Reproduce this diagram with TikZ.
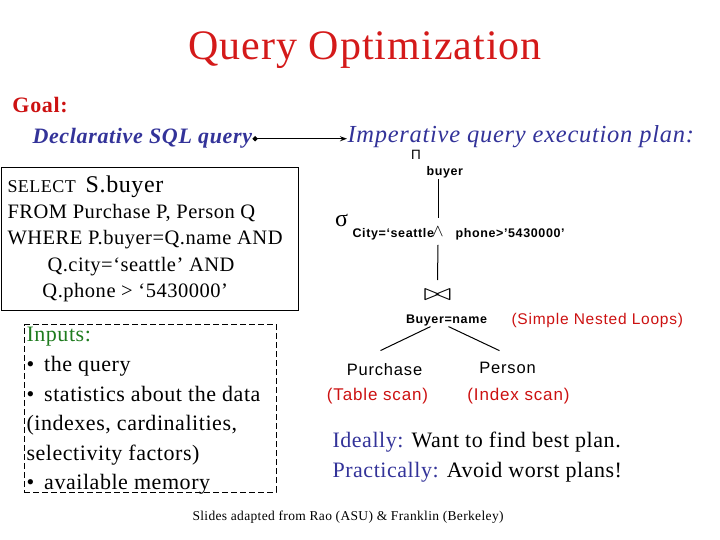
\documentclass[tikz,border=0pt]{standalone}
\usepackage{fontspec}
\usepackage{graphicx}
\setmainfont{Liberation Serif}[LetterSpace=2.5]
\setsansfont{Liberation Sans}[LetterSpace=5]
\usetikzlibrary{arrows.meta, positioning, calc}
\definecolor{cred}{HTML}{D41A1A}
\definecolor{cdred}{HTML}{CC1111}
\definecolor{cblue}{HTML}{333399}
\definecolor{cgreen}{HTML}{1E7B1E}
\tikzset{
  every picture/.style={line width=1pt},
  txt/.style={inner sep=0pt, anchor=base west},
  para/.style={inner sep=0pt, anchor=north west, align=left},
  head/.style={txt, text=cblue, font=\fontsize{22}{26}\selectfont\bfseries\itshape\addfontfeature{LetterSpace=3}},
  op/.style={txt, font=\sffamily\bfseries\fontsize{12.5}{15}\selectfont},
  rel/.style={inner sep=1pt, anchor=base, font=\sffamily\fontsize{16.5}{19}\selectfont},
  cost/.style={inner sep=1pt, anchor=base, text=cdred, font=\sffamily\fontsize{17}{19}\selectfont},
  sqlbox/.style={draw, inner sep=0pt},
  inbox/.style={draw, dash pattern=on 6pt off 3pt, inner sep=0pt},
  arrow/.style={{Circle[length=5pt]}-{Stealth[length=7pt, width=5pt]}, line width=1.2pt},
}

\begin{document}
\begin{tikzpicture}[x=1pt, y=-1pt]
  \useasboundingbox (0,0) rectangle (720,540);
  % heading
  \node[txt, anchor=base, text=cred, font=\fontsize{42}{48}\selectfont] (title) at (365,60) {Query Optimization};
  \node[txt, text=cdred, font=\fontsize{22}{26}\selectfont\bfseries\addfontfeature{LetterSpace=3}] (goal) at (12,113) {Goal:};
  \node[head] (decl) at (32,144) {Declarative SQL query};
  \node[head, font=\fontsize{24.5}{28}\selectfont\itshape\addfontfeature{LetterSpace=3}] (imper) at (347,143) {Imperative query execution plan:};
  \draw[arrow] (decl.east) -- (decl.east -| imper.west);

  % the query
  \node[sqlbox, minimum width=297pt, minimum height=142pt] (sql) at (149.5,239) {};
  \node[para, font=\fontsize{20.5}{26.3}\selectfont] (query) at (7,175) {{\fontsize{18}{20}\selectfont SELECT}\hspace{10pt}{\fontsize{24}{26}\selectfont S.buyer}\\FROM Purchase P, Person Q\\WHERE P.buyer=Q.name AND\\\hspace*{40pt}Q.city=‘seattle’ AND\\\hspace*{35pt}Q.phone > ‘5430000’};

  % inputs
  \node[inbox, minimum width=252pt, minimum height=167.5pt] (inputsbox) at (150,408.25) {};
  \node[para, font=\fontsize{22}{29.6}\selectfont] (inputs) at (26,327) {{\color{cgreen}Inputs:}\\•\hspace{10pt}the query\\•\hspace{10pt}statistics about the data\\(indexes, cardinalities,\\selectivity factors)\\•\hspace{10pt}available memory};

  % plan
  \node[txt, anchor=base, font=\sffamily\fontsize{13.5}{16}\selectfont] (proj) at (416,160) {Π};
  \node[op] (projsub) at (426,176) {buyer};
  \node[txt, anchor=base, font=\fontsize{24}{26}\selectfont\addfontfeature{LetterSpace=0}] (sigma) at (341.5,226) {σ};
  \node[op] (selcond) at (352,237.5) {City=‘seattle};
  \node[inner xsep=1pt, inner ysep=8pt, font=\fontsize{17}{19}\selectfont] (conj) at (438,231.5) {$\wedge$};
  \node[op] (phone) at (455,237.5) {phone>’5430000’};
  \node[inner xsep=0pt, inner ysep=9pt] (join) at (437.5,295) {\resizebox{28pt}{11pt}{$\bowtie$}};
  \node[op, anchor=base] (jcond) at (446.5,323.5) {Buyer=name};
  \node[cost, anchor=base west, font=\sffamily\fontsize{15.5}{18}\selectfont] (method) at (510,324) {(Simple Nested Loops)};
  \node[rel] (purch) at (384.5,375) {Purchase};
  \node[rel] (pers) at (507.5,373) {Person};
  \node[cost] (purchscan) at (377.5,400.5) {(Table scan)};
  \node[cost] (persscan) at (518.5,400.5) {(Index scan)};
  \draw (projsub.south -| conj.north) -- (conj.north);
  \draw (conj.south) -- (join.north);
  \draw ($(jcond.south)+(-16,0)$) -- ($(purch.north)+(-4,-11)$);
  \draw ($(jcond.south)+(2,0)$) -- ($(pers.north)+(-8,-9.5)$);

  % remarks
  \node[para, font=\fontsize{22}{29.3}\selectfont] (advice) at (332,432) {{\color{cblue}Ideally:} Want to find best plan.\\{\color{cblue}Practically:} Avoid worst plans!};
  \node[txt, font=\fontsize{13.5}{15}\selectfont] (credit) at (192,520) {Slides adapted from Rao (ASU) \& Franklin (Berkeley)};
\end{tikzpicture}
\end{document}
